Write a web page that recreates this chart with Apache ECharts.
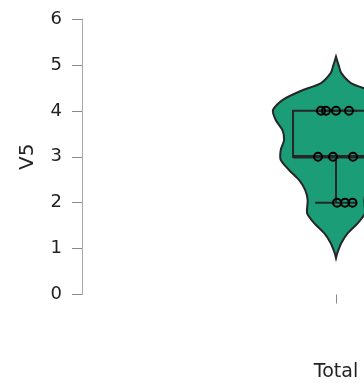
<!DOCTYPE html>
<html>
<head>
<meta charset="utf-8">
<script src="https://cdn.jsdelivr.net/npm/echarts@6/dist/echarts.min.js"></script>
<style>
  html, body { margin: 0; padding: 0; background: #fff; overflow: hidden; }
  /* the plot panel runs past the right edge of the window */
  #chart { width: 590px; height: 383px; }
</style>
</head>
<body>
<div id="chart"></div>
<script>
// Category and y-axis ticks
const categories = ['Total'];
const yTicks = [0, 1, 2, 3, 4, 5, 6];

// Violin outline: value levels (top to bottom) and relative density at each level
const densityLevels = [5.18, 5.00, 4.82, 4.60, 4.45, 4.24, 4.02, 3.80, 3.58, 3.36, 3.15,
                       2.93, 2.71, 2.49, 2.28, 2.06, 1.77, 1.56, 1.34, 1.12, 0.90, 0.79];
const densityWidths = [0, 0.04, 0.085, 0.244, 0.53, 0.845, 1.0, 0.957, 0.85, 0.825, 0.877,
                       0.877, 0.745, 0.585, 0.49, 0.45, 0.458, 0.35, 0.19, 0.085, 0.02, 0];

// Box summary: lower whisker, Q1, median, Q3, upper whisker
const boxStats = [2, 3, 3, 4, 4];

// Observations and their horizontal jitter (fraction of the category band)
const pointValues = [4, 4, 4, 4, 3, 3, 3, 2, 2, 2];
const pointJitter = [-0.0295, -0.0197, 0, 0.0256, -0.0354, -0.0059, 0.0335, 0.002, 0.0177, 0.0325];

// Mark sizes as fractions of the category band
const VIOLIN_HALF = 0.124;
const BOX_HALF = 0.0846;
const CAP_HALF = 0.041;

const FONT = 'DejaVu Sans';
const INK = '#262626';

const chart = echarts.init(document.getElementById('chart'), null, { renderer: 'canvas' });

function violinItem(params, api) {
  const band = api.size([1, 0])[0];
  const cx = api.coord([0, 0])[0];
  const half = band * VIOLIN_HALF;
  const left = [], right = [];
  densityLevels.forEach((v, i) => {
    const y = api.coord([0, v])[1];
    left.push([cx - densityWidths[i] * half, y]);
    right.push([cx + densityWidths[i] * half, y]);
  });
  return {
    type: 'polygon',
    shape: { points: left.concat(right.reverse()), smooth: 0.25 },
    style: { fill: '#1b9e77', stroke: INK, lineWidth: 2 }
  };
}

function boxItem(params, api) {
  const band = api.size([1, 0])[0];
  const cx = api.coord([0, 0])[0];
  const bh = band * BOX_HALF;
  const ch = band * CAP_HALF;
  const yLo = api.coord([0, boxStats[0]])[1];
  const yQ1 = api.coord([0, boxStats[1]])[1];
  const yMed = api.coord([0, boxStats[2]])[1];
  const yQ3 = api.coord([0, boxStats[3]])[1];
  const yHi = api.coord([0, boxStats[4]])[1];
  const line = { stroke: INK, lineWidth: 2 };
  return {
    type: 'group',
    children: [
      { type: 'rect', shape: { x: cx - bh, y: yQ3, width: bh * 2, height: yQ1 - yQ3 },
        style: { fill: 'none', stroke: INK, lineWidth: 2 } },
      { type: 'line', shape: { x1: cx, y1: yQ1, x2: cx, y2: yLo }, style: line },
      { type: 'line', shape: { x1: cx, y1: yQ3, x2: cx, y2: yHi }, style: line },
      { type: 'line', shape: { x1: cx - ch, y1: yLo, x2: cx + ch, y2: yLo }, style: line },
      { type: 'line', shape: { x1: cx - ch, y1: yHi, x2: cx + ch, y2: yHi }, style: line },
      { type: 'line', shape: { x1: cx - bh, y1: yMed, x2: cx + bh, y2: yMed },
        style: { stroke: INK, lineWidth: 3.5 } }
    ]
  };
}

function pointItem(params, api) {
  const band = api.size([1, 0])[0];
  const cx = api.coord([0, 0])[0];
  const v = api.value(1);
  const j = api.value(2);
  const y = api.coord([0, v])[1];
  return {
    type: 'circle',
    shape: { cx: cx + j * band, cy: y, r: 4 },
    style: { fill: 'none', stroke: '#000', lineWidth: 2 }
  };
}

chart.setOption({
  animation: false,
  backgroundColor: '#fff',
  grid: { left: 82, right: 0, top: 19, bottom: 88.5, containLabel: false },
  xAxis: {
    type: 'category',
    data: categories,
    offset: 14,
    axisLine: { show: false },
    axisTick: { show: true, alignWithLabel: true, length: 9, lineStyle: { color: '#888', width: 1 } },
    axisLabel: { margin: 54, fontFamily: FONT, fontSize: 19, color: '#222' },
    splitLine: { show: false }
  },
  yAxis: {
    type: 'value',
    min: yTicks[0],
    max: yTicks[yTicks.length - 1],
    interval: 1,
    name: 'V5',
    nameLocation: 'middle',
    nameGap: 44,
    nameTextStyle: { fontFamily: FONT, fontSize: 20, color: '#222' },
    axisLine: { show: true, lineStyle: { color: '#aaa', width: 1 } },
    axisTick: { show: true, length: 10, lineStyle: { color: '#888', width: 1 } },
    axisLabel: { margin: 20, fontFamily: FONT, fontSize: 18, color: '#222' },
    splitLine: { show: false }
  },
  series: [
    { type: 'custom', renderItem: violinItem, data: [[0]], z: 1, silent: true },
    { type: 'custom', renderItem: boxItem, data: [[0]], z: 2, silent: true },
    {
      type: 'custom', renderItem: pointItem, z: 3, silent: true,
      encode: { x: 0, y: 1 },
      data: pointValues.map((v, i) => [0, v, pointJitter[i]])
    }
  ]
});
</script>
</body>
</html>
